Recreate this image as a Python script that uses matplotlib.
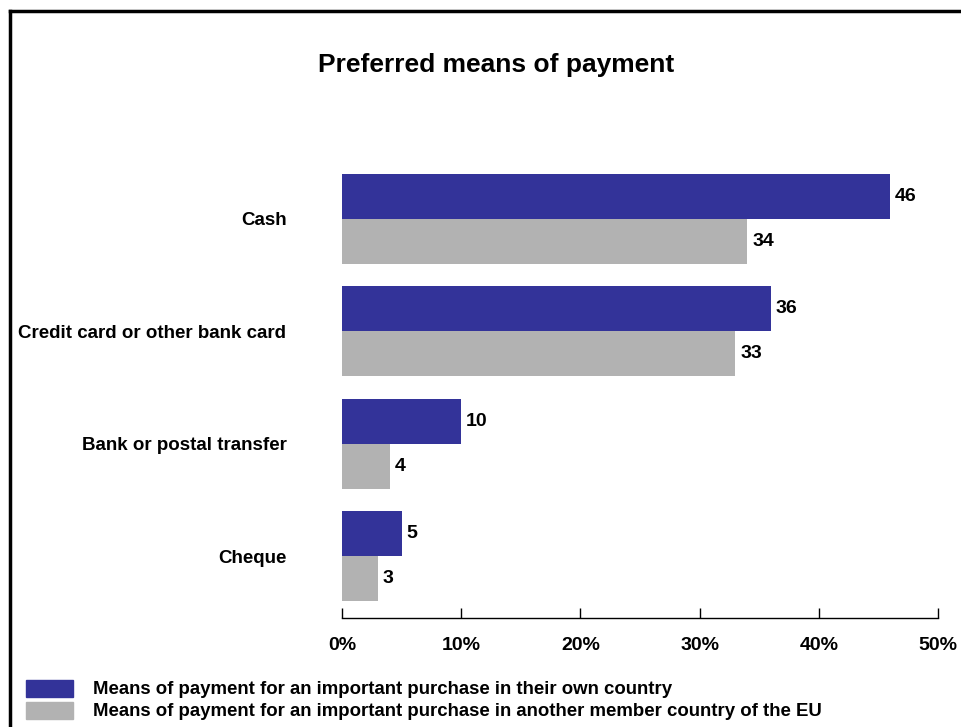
import matplotlib
matplotlib.use("Agg")
import matplotlib.pyplot as plt
from matplotlib.lines import Line2D
from matplotlib.patches import Rectangle

# data
categories = ["Cheque", "Bank or postal transfer", "Credit card or other bank card", "Cash"]
own_country = [5, 10, 36, 46]
other_eu = [3, 4, 33, 34]
series_names = ["Means of payment for an important purchase in their own country",
                "Means of payment for an important purchase in another member country of the EU"]
ticks = [0, 10, 20, 30, 40, 50]
tick_labels = ["0%", "10%", "20%", "30%", "40%", "50%"]

blue = "#333399"
grey = "#b2b2b2"

plt.rcParams['font.family'] = ['Liberation Sans', 'DejaVu Sans']
plt.rcParams['font.weight'] = 'bold'

fig = plt.figure(figsize=(9.61, 7.27), dpi=100)
W, H = 961, 727

# frame of the original slide (only top and left edges are visible)
fig.add_artist(Line2D([10 / W, 10 / W], [0, 1 - 11 / H], color="black", lw=2.5, transform=fig.transFigure))
fig.add_artist(Line2D([10 / W, 1], [1 - 11 / H, 1 - 11 / H], color="black", lw=2.5, transform=fig.transFigure))

ax = fig.add_axes([342 / W, 1 - 618 / H, 596 / W, 461 / H])

h = 0.4
pos = list(range(len(categories)))
ax.barh([p + h / 2 for p in pos], own_country, height=h, color=blue)
ax.barh([p - h / 2 for p in pos], other_eu, height=h, color=grey)

for p, v in zip(pos, own_country):
    ax.text(v + 0.4, p + h / 2, str(v), va="center", ha="left", fontsize=14, fontweight="bold")
for p, v in zip(pos, other_eu):
    ax.text(v + 0.4, p - h / 2, str(v), va="center", ha="left", fontsize=14, fontweight="bold")

ax.set_xlim(0, 50)
ax.set_ylim(-0.55, 3.55)
ax.set_xticks(ticks)
ax.set_xticklabels(tick_labels, fontsize=14, fontweight="bold")
ax.tick_params(axis="x", direction="in", length=7, width=1, pad=14)
ax.set_yticks(pos)
ax.set_yticklabels(categories, fontsize=13.5, fontweight="bold")
ax.tick_params(axis="y", length=0, pad=40)
for s in ["top", "right", "left"]:
    ax.spines[s].set_visible(False)
ax.spines["bottom"].set_linewidth(1)

fig.text(496 / W, 1 - 65 / H, "Preferred means of payment", ha="center", va="center",
         fontsize=19, fontweight="bold")

# legend drawn as patches + texts
for i, (name, col) in enumerate(zip(series_names, [blue, grey])):
    y0 = 680 + i * 22
    fig.add_artist(Rectangle((26 / W, 1 - (y0 + 17) / H), 47 / W, 17 / H, color=col,
                             transform=fig.transFigure))
    fig.text(93 / W, 1 - (y0 + 9) / H, name, ha="left", va="center", fontsize=13.4, fontweight="bold")

fig.savefig("out.png", dpi=100)
